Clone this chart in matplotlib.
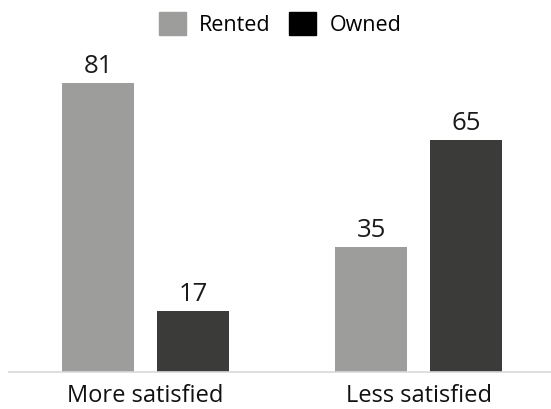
import matplotlib
matplotlib.use("Agg")
import matplotlib.pyplot as plt
from matplotlib.patches import Patch
import numpy as np

categories = ["More satisfied", "Less satisfied"]
series_names = ["Rented", "Owned"]
rented = [81, 35]
owned = [17, 65]

bar_colors = ["#9d9d9b", "#3b3b3a"]
legend_colors = ["#9d9d9b", "#000000"]

plt.rcParams['font.family'] = ['Open Sans', 'DejaVu Sans']

fig = plt.figure(figsize=(5.51, 4.09), dpi=100)
ax = fig.add_axes([9/551, 37/409, 1 - 9/551, (372 - 15.2)/409])

x = np.arange(len(categories))
w = 72/273
off = 47.5/273
b1 = ax.bar(x - off, rented, w, color=bar_colors[0])
b2 = ax.bar(x + off, owned, w, color=bar_colors[1])

for bars, vals in ((b1, rented), (b2, owned)):
    for r, v in zip(bars, vals):
        ax.annotate(str(v), (r.get_x() + r.get_width()/2, v), xytext=(0, 3),
                    textcoords="offset points", ha="center", va="bottom",
                    fontsize=18.5, color="#1a1a1a")

ax.set_xlim(-0.5, 1.485)
ax.set_ylim(0, 100)
ax.set_xticks(x)
ax.set_xticklabels(categories, fontsize=17, color="#111111")
ax.tick_params(axis="x", length=0, pad=9)
ax.set_yticks([])
for s in ["top", "right", "left"]:
    ax.spines[s].set_visible(False)
ax.spines["bottom"].set_color("#d9d9d9")
ax.spines["bottom"].set_linewidth(1.2)

handles = [Patch(color=c) for c in legend_colors]
fig.legend(handles, series_names, loc="center", bbox_to_anchor=(0.508, 1 - 24/409),
           ncol=2, frameon=False, fontsize=15.5, handlelength=1.25, handleheight=1.25,
           handletextpad=0.6, columnspacing=0.9)

fig.savefig("out.png", dpi=100)
